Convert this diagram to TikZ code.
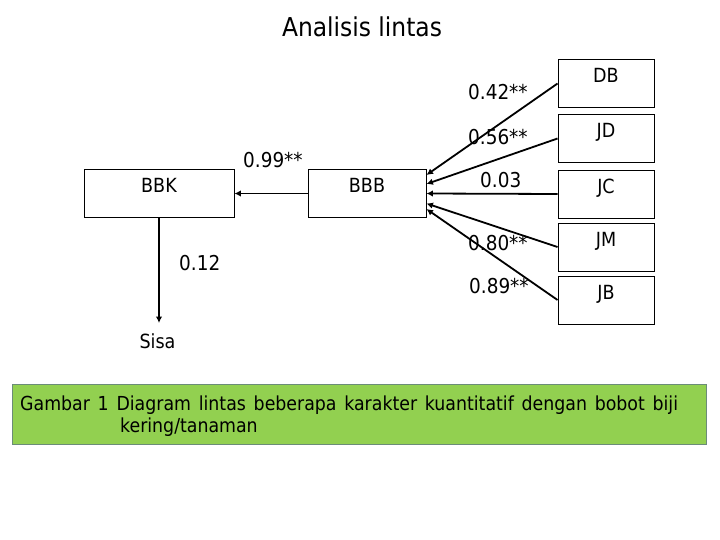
\documentclass[tikz,border=0pt]{standalone}
\usepackage{fontspec}
\setmainfont{DejaVu Sans Condensed}
\usetikzlibrary{arrows.meta,calc}
\definecolor{capgreen}{HTML}{92D050}
\definecolor{capline}{HTML}{6B8C78}

\begin{document}
\begin{tikzpicture}[x=1pt,y=-1pt,
		box/.style={draw, line width=0.9pt, inner sep=0pt, minimum height=48pt},
		boxtext/.style={anchor=base, yshift=-23.5pt, inner sep=0pt, font=\fontsize{19.5}{23}\selectfont},
		coef/.style={anchor=base west, inner sep=0pt, font=\fontsize{20.5}{24}\selectfont},
		path/.style={line width=1.8pt, -{Latex[length=6.5pt,width=6.5pt]}}]
			%%%%% START %%%%%
			\useasboundingbox (0, 0) rectangle (720, 540);
			
			\node[anchor=base, font=\fontsize{26}{30}\selectfont] (title) at (362, 37) {Analisis lintas};
			
			\node[box, minimum width=150pt, label={[boxtext]north:BBK}] (BBK) at (159, 193.5) {};
			\node[box, minimum width=118pt, label={[boxtext]north:BBB}] (BBB) at (367, 193.5) {};
			
			\node[box, minimum width=96pt, label={[boxtext]north:DB}] (DB) at (606, 83.5) {};
			\node[box, minimum width=96pt, label={[boxtext]north:JD}] (JD) at (606, 138.5) {};
			\node[box, minimum width=96pt, label={[boxtext]north:JC}] (JC) at (606, 194) {};
			\node[box, minimum width=96pt, label={[boxtext]north:JM}] (JM) at (606, 247) {};
			\node[box, minimum width=96pt, label={[boxtext]north:JB}] (JB) at (606, 300) {};
			
			\draw[path] (DB.west) -- ($(BBB.east)+(0, -18.5)$);
			\draw[path] (JD.west) -- ($(BBB.east)+(0, -9.5)$);
			\draw[path] (JC.west) -- (BBB.east);
			\draw[path] (JM.west) -- ($(BBB.east)+(0, 10)$);
			\draw[path] (JB.west) -- ($(BBB.east)+(0, 15.5)$);
			
			\node[coef] (kDB) at (468, 100) {0.42**};
			\node[coef] (kJD) at (468, 145) {0.56**};
			\node[coef] (kJC) at (480, 188) {0.03};
			\node[coef] (kJM) at (468, 250) {0.80**};
			\node[coef] (kJB) at (469, 293) {0.89**};
			
			\draw[path] (BBB.west) -- (BBK.east);
			\node[coef] (kBBB) at (243, 168) {0.99**};
			
			\coordinate (sisaend) at (159, 323);
			\draw[path] (BBK.south) -- (sisaend);
			\node[coef] (kSisa) at (179, 270) {0.12};
			\node[anchor=base, inner sep=0pt, font=\fontsize{19.5}{23}\selectfont] (sisa) at (157.5, 348) {Sisa};
			
			\draw[fill=capgreen, draw=capline, line width=0.9pt] (12, 384) rectangle (706, 444);
			\node[coef, font=\fontsize{19.3}{23}\selectfont] (capA) at (20, 410) {\makebox[658pt][s]{Gambar 1 Diagram lintas beberapa karakter kuantitatif dengan bobot biji}};
			\node[coef, font=\fontsize{19.3}{23}\selectfont] (capB) at (120, 432) {kering/tanaman};
			
			%%%%% END %%%%%
\end{tikzpicture}
\end{document}
